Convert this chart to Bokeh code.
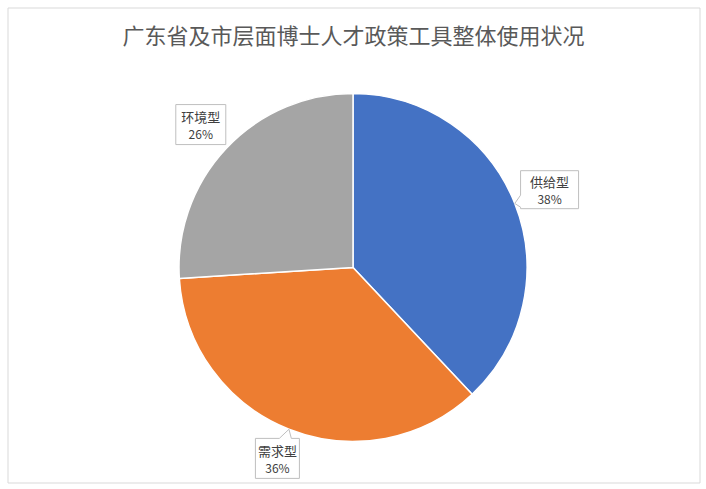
import math
from bokeh.plotting import figure
from bokeh.models import Range1d, ColumnDataSource
from bokeh.core.properties import value
from bokeh.embed import file_html
from bokeh.resources import INLINE

# ---- data ----
title_text = "广东省及市层面博士人才政策工具整体使用状况"
categories = ["供给型", "需求型", "环境型"]
values = [38, 36, 26]
colors = ["#4472C4", "#ED7D31", "#A5A5A5"]

# ---- layout / style ----
W, H = 702, 486
CX, CY, R = 352.5, 219.0, 174.0
label_factor = [1.215, 1.18, 1.2]
box_w = [58, 44, 50]
box_h = [38, 40, 40]
FONT = "Noto Sans CJK SC"

p = figure(width=W, height=H, x_range=Range1d(0, W), y_range=Range1d(0, H),
           x_axis_type=None, y_axis_type=None, toolbar_location=None,
           output_backend="svg", min_border=0)
p.grid.visible = False
p.outline_line_color = None
p.background_fill_color = "white"
p.border_fill_color = "white"

# chart-area border
p.quad(left=[7.5], right=[699.5], bottom=[H - 482.5], top=[H - 7.5],
       fill_color=None, line_color="#d9d9d9", line_width=1)

total = sum(values)
starts, ends, mids = [], [], []
acc = 0.0
for v in values:
    s = math.radians(90 - acc / total * 360)
    e = math.radians(90 - (acc + v) / total * 360)
    starts.append(s)
    ends.append(e)
    mids.append((s + e) / 2)
    acc += v

src = ColumnDataSource(dict(start=ends, end=starts, color=colors, cat=categories))
p.wedge(x=CX, y=CY, radius=R, start_angle="start", end_angle="end",
        fill_color="color", line_color="white", line_width=1.5, source=src)


def callout(cx, cy, hw, hh, tx, ty, b=6):
    ux, uy = tx - cx, ty - cy
    BL, BR, TR, TL = (cx - hw, cy - hh), (cx + hw, cy - hh), (cx + hw, cy + hh), (cx - hw, cy + hh)
    excess = max(abs(ux) - hw, abs(uy) - hh)
    if excess < 5:
        return [BL, BR, TR, TL]
    tip = (tx, ty)
    if abs(ux) * hh > abs(uy) * hw:
        side = "right" if ux > 0 else "left"
        ey = cy + uy * hw / abs(ux)
        lo, hi = max(cy - hh, ey - b), min(cy + hh, ey + b)
    else:
        side = "top" if uy > 0 else "bottom"
        ex = cx + ux * hh / abs(uy)
        lo, hi = max(cx - hw, ex - b), min(cx + hw, ex + b)
    pts = [BL]
    if side == "bottom":
        pts += [(lo, cy - hh), tip, (hi, cy - hh)]
    pts.append(BR)
    if side == "right":
        pts += [(cx + hw, lo), tip, (cx + hw, hi)]
    pts.append(TR)
    if side == "top":
        pts += [(hi, cy + hh), tip, (lo, cy + hh)]
    pts.append(TL)
    if side == "left":
        pts += [(cx - hw, hi), tip, (cx - hw, lo)]
    return pts


xs, ys = [], []
lx, pct_y, name_y, pct_txt = [], [], [], []
for i, (cat, v) in enumerate(zip(categories, values)):
    m = mids[i]
    cx = CX + label_factor[i] * R * math.cos(m)
    cy = CY + label_factor[i] * R * math.sin(m)
    tx = CX + R * math.cos(m)
    ty = CY + R * math.sin(m)
    pts = callout(cx, cy, box_w[i] / 2, box_h[i] / 2, tx, ty)
    xs.append([q[0] for q in pts])
    ys.append([q[1] for q in pts])
    lx.append(cx)
    name_y.append(cy + 8)
    pct_y.append(cy - 9)
    pct_txt.append(f"{v / total * 100:.0f}%")

p.patches(xs=xs, ys=ys, fill_color="white", line_color="#bfbfbf", line_width=1)
p.text(x=lx, y=name_y, text=categories, text_font=value(FONT), text_font_size="13px",
       text_color="#404040", text_align="center", text_baseline="middle")
p.text(x=lx, y=pct_y, text=pct_txt, text_font=value(FONT), text_font_size="12px",
       text_color="#404040", text_align="center", text_baseline="middle")

p.text(x=[353], y=[H - 33], text=[title_text], text_font=value(FONT),
       text_font_size="22px", text_color="#595959", text_align="center",
       text_baseline="middle")

open("out.html", "w").write(file_html(p, INLINE))
